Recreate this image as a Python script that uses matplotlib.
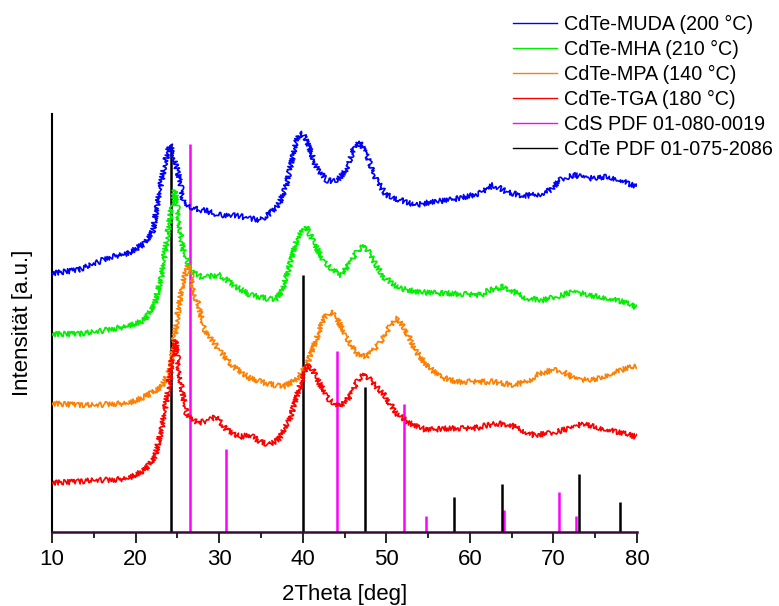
import matplotlib
matplotlib.use("Agg")
import matplotlib.pyplot as plt
from matplotlib.lines import Line2D

plt.rcParams['font.family'] = ['Liberation Sans', 'DejaVu Sans']

# ---- measured curves (2Theta in deg, stacked intensity in a.u.) ----
muda_x = [10.0, 13.1, 15.1, 17.1, 19.1, 21.1, 22.1, 22.9, 23.5, 24.1, 24.7, 25.3, 25.7, 26.5,
          27.7, 28.3, 29.7, 31.7, 33.7, 34.9, 36.1, 37.2, 38.0, 38.8, 39.4, 40.0, 40.6, 41.6,
          42.8, 44.0, 45.2, 46.2, 46.8, 47.6, 48.8, 50.0, 51.6, 53.6, 55.6, 57.6, 59.2, 61.2,
          62.8, 64.4, 66.4, 68.4, 69.6, 70.8, 72.4, 74.3, 76.3, 77.9, 79.9]
muda_y = [258.7, 262, 268.7, 275.3, 278.7, 288.7, 302, 342, 368.7, 388, 372, 352, 332, 325.3,
          322, 322, 317, 317, 313.7, 312, 318.7, 328.7, 345.3, 375.3, 395.3, 398.7, 388.7, 365.3,
          352, 350.3, 362, 385.3, 390.3, 378.7, 352, 337, 332, 327, 330.3, 332, 334.7, 338.7,
          347, 340.3, 336, 338, 342, 352, 357, 353.7, 355.3, 352, 345.3]

mha_x = [10.0, 13.1, 15.1, 17.1, 19.1, 21.1, 22.3, 23.1, 23.9, 24.3, 24.7, 25.1, 25.5, 25.7,
         26.3, 26.9, 27.1, 28.1, 28.3, 30.1, 31.7, 33.7, 35.6, 36.7, 37.6, 38.6, 39.4, 40.4,
         41.2, 42.4, 43.6, 44.6, 45.6, 46.6, 47.4, 48.2, 49.6, 51.6, 53.6, 55.6, 57.2, 59.2,
         61.2, 62.4, 64.0, 65.2, 66.8, 68.8, 70.4, 72.4, 74.3, 76.3, 78.3, 79.9]
mha_y = [198, 198, 200.3, 202.7, 206, 212, 228.7, 255.3, 302, 325.3, 342, 318.7, 292, 282,
         268.7, 258.7, 258.7, 253.7, 255.3, 257, 247, 237, 233.7, 232, 242, 272, 295.3, 305.3,
         292, 272, 262, 257, 268.7, 282, 287, 275.3, 255.3, 243.7, 240.3, 239, 238.7, 238,
         237, 242, 245.3, 240.3, 233.7, 232, 235.3, 240.3, 237, 233.7, 230.3, 224.7]

mpa_x = [10.0, 13.1, 15.1, 17.1, 19.1, 21.1, 23.1, 24.1, 24.7, 25.1, 25.7, 26.3, 26.7, 27.1,
         27.5, 28.1, 28.3, 29.7, 31.7, 33.7, 35.6, 37.6, 39.2, 40.4, 41.6, 42.4, 43.2, 44.0,
         45.2, 46.4, 47.6, 49.2, 50.4, 51.4, 52.4, 53.6, 54.8, 56.4, 58.4, 60.4, 62.8, 65.2,
         66.8, 68.4, 70.0, 71.2, 72.4, 74.0, 75.5, 77.1, 78.7, 79.9]
mpa_y = [128.7, 127, 127, 128, 128.7, 135.3, 145.3, 162, 195.3, 222, 252, 267, 255.3, 235.3,
         228.7, 205.3, 202, 185.3, 165.3, 153.7, 148.7, 145.3, 152, 165.3, 192, 212, 220.3, 215.3,
         195.3, 178.7, 175.3, 188.7, 205.3, 213.7, 200, 180, 167, 155.3, 150.3, 150.3, 150.3, 147,
         150.3, 158.7, 162, 160.3, 153.7, 152, 153.7, 158.7, 163.7, 165.3]

tga_x = [10.0, 13.1, 15.1, 17.1, 19.1, 21.1, 22.3, 23.1, 23.9, 24.5, 24.8, 25.1, 25.5, 25.7,
         26.1, 26.5, 27.5, 28.1, 29.7, 30.9, 32.5, 33.7, 34.9, 36.1, 37.2, 38.4, 39.4, 40.4,
         41.0, 42.0, 43.2, 44.4, 45.6, 46.6, 47.4, 48.4, 49.6, 51.2, 52.8, 54.8, 57.6, 60.4,
         63.2, 64.8, 67.6, 69.6, 72.0, 73.6, 75.5, 77.5, 79.9]
tga_y = [49.3, 50.3, 52, 52, 53.7, 62, 75.3, 102, 142, 182, 192, 168.7, 145.3, 135.3,
         118.7, 115.3, 108.7, 110.3, 115.3, 102, 95.3, 97, 90.3, 87, 93.7, 112, 138.7, 165.3,
         165.3, 148.7, 132, 125.3, 135.3, 152, 158.7, 148.7, 138.7, 118.7, 108.7, 102, 103.7, 103.7,
         108.7, 107, 97, 98.7, 103.7, 108.7, 103.7, 100.3, 95.3]

# ---- reference patterns (stick positions and heights) ----
cds_pos = [26.56, 30.78, 44.07, 52.17, 54.70, 64.10, 70.63, 72.75]
cds_h = [388, 83, 181, 128, 16, 22, 40, 16]
cdte_pos = [24.20, 40.08, 47.50, 58.10, 63.85, 73.02, 78.00]
cdte_h = [388, 257, 145, 35, 48, 58, 30]

labels = ['CdTe-MUDA (200 °C)', 'CdTe-MHA (210 °C)', 'CdTe-MPA (140 °C)',
          'CdTe-TGA (180 °C)', 'CdS PDF 01-080-0019', 'CdTe PDF 01-075-2086']
colors = ['#0000ff', '#00f000', '#ff8000', '#ff0000', '#ff00ff', '#000000']

fig = plt.figure(figsize=(7.79, 6.06), dpi=100)
ax = fig.add_axes([52/779, 1-532/606, (637-52)/779, (532-114)/606])

series = [(muda_x, muda_y), (mha_x, mha_y), (mpa_x, mpa_y), (tga_x, tga_y)]
for (xs, ys), c, lab in zip(series, colors[:4], labels[:4]):
    ln, = ax.plot(xs, ys, color=c, lw=1.2, label=lab, zorder=3)
    ln.set_sketch_params(scale=2.6, length=1.2, randomness=2)

ax.vlines(cds_pos, 0, cds_h, color=colors[4], lw=1.8, zorder=2)
ax.vlines(cdte_pos, 0, cdte_h, color=colors[5], lw=1.8, zorder=2)

leg_handles = [Line2D([], [], color=c, lw=1.0) for c in colors]

ax.set_xlim(10, 80)
ax.set_ylim(0, 418)
ax.set_xticks(range(10, 81, 10))
ax.set_xticks(range(15, 80, 10), minor=True)
ax.set_yticks([])
ax.tick_params(axis='x', which='major', direction='out', length=8, width=1.2, labelsize=16, pad=4)
ax.tick_params(axis='x', which='minor', direction='out', length=4, width=1.2)
for s in ['top', 'right']:
    ax.spines[s].set_visible(False)
ax.spines['left'].set_linewidth(1.5)
ax.spines['bottom'].set_linewidth(1.8)
ax.spines['bottom'].set_color('#3a0a3a')

ax.set_xlabel('2Theta [deg]', fontsize=16, labelpad=10)
ax.set_ylabel('Intensität [a.u.]', fontsize=16, labelpad=14)

fig.legend(leg_handles, labels, loc='upper left', bbox_to_anchor=(513/779, 1-15/606),
           frameon=False, fontsize=14.2, handlelength=2.25, handletextpad=0.35,
           labelspacing=0.3, borderpad=0, borderaxespad=0)

fig.savefig('out.png', dpi=100)
